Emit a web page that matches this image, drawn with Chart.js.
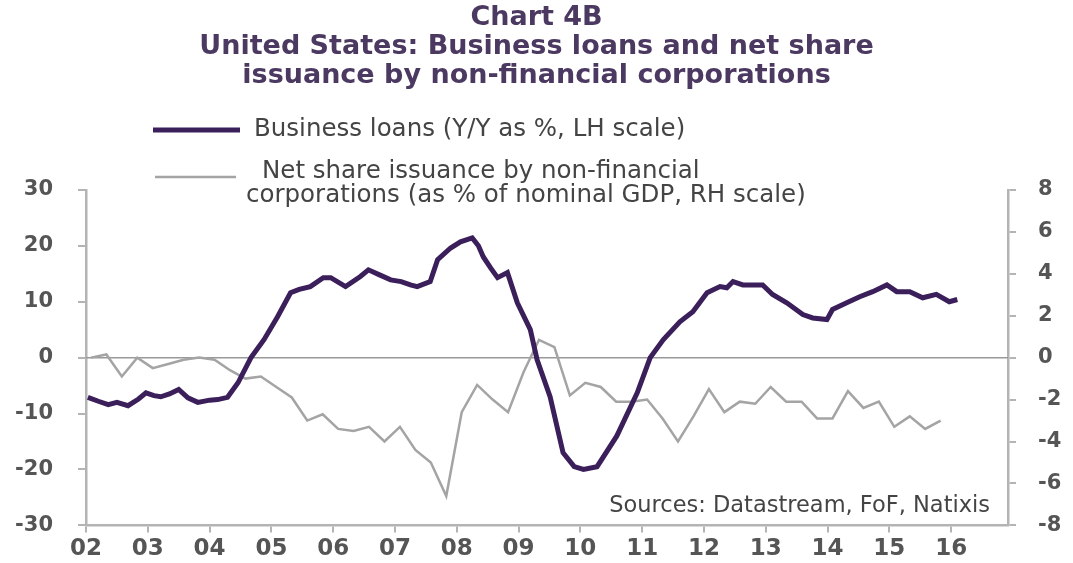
<!DOCTYPE html>
<html>
<head>
<meta charset="utf-8">
<script src="https://cdn.jsdelivr.net/npm/chart.js@4/dist/chart.umd.min.js"></script>
<style>
  html, body { margin: 0; padding: 0; background: #fff; }
  #wrap { width: 1073px; height: 563px; }
</style>
</head>
<body>
<div id="wrap"><canvas id="chart" width="1073" height="563"></canvas></div>
<script>
// Business loans, Y/Y % (left scale)
const loanDates = [2002.03, 2002.2, 2002.36, 2002.5, 2002.68, 2002.85, 2002.97, 2003.1, 2003.21, 2003.35,
  2003.5, 2003.65, 2003.81, 2004.0, 2004.13, 2004.29, 2004.46, 2004.67, 2004.88, 2005.1,
  2005.31, 2005.45, 2005.63, 2005.84, 2005.96, 2006.2, 2006.44, 2006.57, 2006.75, 2006.93,
  2007.1, 2007.25, 2007.36, 2007.57, 2007.69, 2007.9, 2008.06, 2008.25, 2008.35, 2008.43,
  2008.55, 2008.66, 2008.82, 2008.98, 2009.19, 2009.3, 2009.51, 2009.72, 2009.9, 2010.05,
  2010.27, 2010.59, 2010.92, 2011.13, 2011.34, 2011.61, 2011.82, 2012.05, 2012.26, 2012.37,
  2012.47, 2012.63, 2012.95, 2013.11, 2013.34, 2013.6, 2013.76, 2013.99, 2014.08, 2014.31,
  2014.52, 2014.73, 2014.96, 2015.12, 2015.33, 2015.54, 2015.76, 2015.97, 2016.1];
const loanValues = [-7.1, -7.8, -8.4, -8.0, -8.6, -7.4, -6.3, -6.8, -7.0, -6.5,
  -5.7, -7.2, -8.0, -7.6, -7.5, -7.1, -4.5, 0, 3.2, 7.3,
  11.6, 12.2, 12.7, 14.3, 14.3, 12.7, 14.5, 15.7, 14.8, 13.9,
  13.6, 13.0, 12.7, 13.6, 17.5, 19.6, 20.7, 21.4, 20.0, 18.0,
  16.0, 14.3, 15.2, 9.8, 5.0, -0.4, -7.0, -17.0, -19.5, -20.0,
  -19.5, -14.0, -6.3, 0, 3.2, 6.4, 8.2, 11.6, 12.7, 12.5,
  13.6, 13.0, 13.0, 11.3, 9.8, 7.7, 7.1, 6.8, 8.6, 9.8,
  10.9, 11.8, 13.0, 11.8, 11.8, 10.7, 11.3, 10.0, 10.4];

// Net share issuance, % of nominal GDP (right scale), quarterly from 2002 Q1
const shareStart = 2002.08;
const shareValues = [0.0, 0.15, -0.9, 0.0, -0.5, -0.3, -0.1, 0.0,
  -0.1, -0.6, -1.0, -0.9, -1.4, -1.9, -3.0, -2.7,
  -3.4, -3.5, -3.3, -4.0, -3.3, -4.4, -5.0, -6.6,
  -2.6, -1.3, -2.0, -2.6, -0.7, 0.85, 0.5, -1.8,
  -1.2, -1.4, -2.1, -2.1, -2.0, -2.9, -4.0, -2.8,
  -1.5, -2.6, -2.1, -2.2, -1.4, -2.1, -2.1, -2.9,
  -2.9, -1.6, -2.4, -2.1, -3.3, -2.8, -3.4, -3.0];

const yearLabels = ['02', '03', '04', '05', '06', '07', '08', '09', '10', '11', '12', '13', '14', '15', '16'];
const titleLines = ['Chart 4B', 'United States: Business loans and net share', 'issuance by non-financial corporations'];
const loanLabel = ['Business loans (Y/Y as %, LH scale)'];
const shareLabel = ['Net share issuance by non-financial', 'corporations (as % of nominal GDP, RH scale)'];
const sourceText = 'Sources: Datastream, FoF, Natixis';

const purple = '#3b1f5a';
const grey = '#a4a4a4';
const axisGrey = '#b4b4b4';
const tickFont = { family: 'DejaVu Sans', size: 21, weight: 'bold' };

// zero line across the plot
const zeroLine = {
  id: 'zeroLine',
  beforeDatasetsDraw(chart) {
    const { ctx, chartArea, scales } = chart;
    const y = scales.yL.getPixelForValue(0);
    ctx.save();
    ctx.strokeStyle = '#999';
    ctx.lineWidth = 1.5;
    ctx.beginPath();
    ctx.moveTo(chartArea.left, y);
    ctx.lineTo(chartArea.right, y);
    ctx.stroke();
    ctx.restore();
  }
};

// legend block and source note
const notes = {
  id: 'notes',
  afterDraw(chart) {
    const ctx = chart.ctx;
    ctx.save();
    ctx.lineCap = 'butt';
    ctx.strokeStyle = purple;
    ctx.lineWidth = 5;
    ctx.beginPath(); ctx.moveTo(153, 130); ctx.lineTo(240, 130); ctx.stroke();
    ctx.strokeStyle = grey;
    ctx.lineWidth = 2.5;
    ctx.beginPath(); ctx.moveTo(155, 177); ctx.lineTo(236, 177); ctx.stroke();

    ctx.fillStyle = '#444';
    ctx.font = '24.5px "DejaVu Sans"';
    ctx.textBaseline = 'middle';
    ctx.textAlign = 'left';
    ctx.fillText(loanLabel[0], 254, 130);
    ctx.fillText(shareLabel[0], 262, 172);
    ctx.fillText(shareLabel[1], 246, 196);

    ctx.font = '22.5px "DejaVu Sans"';
    ctx.textAlign = 'right';
    ctx.fillText(sourceText, 990, 506);
    ctx.restore();
  }
};

const ctx = document.getElementById('chart').getContext('2d');
const chart = new Chart(ctx, {
  type: 'line',
  data: {
    datasets: [
      {
        label: loanLabel[0],
        data: loanDates.map((d, i) => ({ x: d, y: loanValues[i] })),
        borderColor: purple,
        borderWidth: 5,
        pointRadius: 0,
        tension: 0,
        yAxisID: 'yL',
        order: 1
      },
      {
        label: shareLabel.join(' '),
        data: shareValues.map((v, i) => ({ x: shareStart + i * 0.25, y: v })),
        borderColor: grey,
        borderWidth: 2.5,
        pointRadius: 0,
        tension: 0,
        yAxisID: 'yR',
        order: 2
      }
    ]
  },
  options: {
    responsive: false,
    animation: false,
    layout: { padding: 0 },
    plugins: {
      legend: { display: false },
      tooltip: { enabled: false },
      title: {
        display: true,
        text: titleLines,
        color: '#4b3961',
        font: { family: 'DejaVu Sans', size: 27, weight: 'bold', lineHeight: 1.06 },
        padding: { top: 4, bottom: 100 }
      }
    },
    scales: {
      x: {
        type: 'linear',
        min: 2002,
        max: 2016.92,
        afterFit(scale) { scale.height = 36; },
        afterBuildTicks(scale) {
          scale.ticks = yearLabels.map((l, i) => ({ value: 2002 + i }));
        },
        ticks: {
          autoSkip: false,
          maxRotation: 0,
          padding: 3,
          color: '#555',
          font: { family: 'DejaVu Sans', size: 23, weight: 'bold' },
          callback: v => yearLabels[Math.round(v) - 2002] || ''
        },
        grid: { drawOnChartArea: false, tickLength: 7, color: axisGrey, lineWidth: 2 },
        border: { color: axisGrey, width: 2.5 }
      },
      yL: {
        position: 'left',
        min: -30,
        max: 30,
        afterFit(scale) { scale.width = 86; },
        ticks: { stepSize: 10, padding: 25, color: '#555', font: tickFont },
        grid: { drawOnChartArea: false, tickLength: 8, color: axisGrey, lineWidth: 2 },
        border: { color: axisGrey, width: 2.5 }
      },
      yR: {
        position: 'right',
        min: -8,
        max: 8,
        afterFit(scale) { scale.width = 65; },
        ticks: { stepSize: 2, padding: 22, color: '#555', font: tickFont },
        grid: { drawOnChartArea: false, tickLength: 8, color: axisGrey, lineWidth: 2 },
        border: { color: axisGrey, width: 2.5 }
      }
    }
  },
  plugins: [zeroLine, notes]
});
</script>
</body>
</html>
